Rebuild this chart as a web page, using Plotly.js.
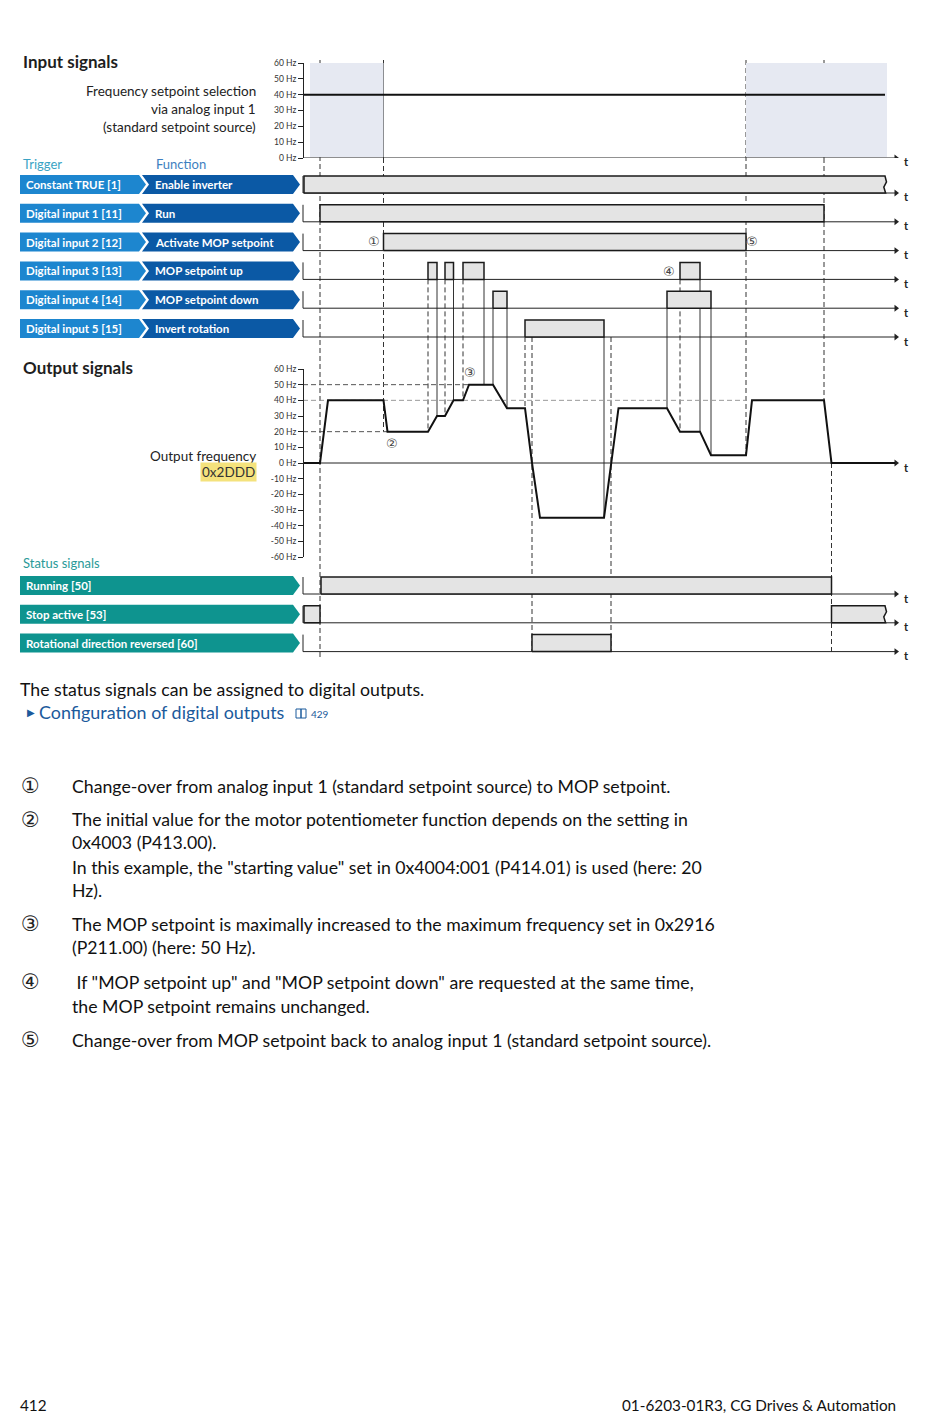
<!DOCTYPE html>
<html><head><meta charset="utf-8">
<script src="https://cdn.plot.ly/plotly-3.0.1.min.js"></script>
<style>html,body{margin:0;padding:0;background:#fff;}#chart{width:950px;height:1419px;}</style>
</head><body><div id="chart"></div>
<script>
// ================= DATA =================
const inputHzTicks = [0, 10, 20, 30, 40, 50, 60];
const inputHzTickText = ['0 Hz', '10 Hz', '20 Hz', '30 Hz', '40 Hz', '50 Hz', '60 Hz'];
const outputHzTicks = [-60, -50, -40, -30, -20, -10, 0, 10, 20, 30, 40, 50, 60];
const outputHzTickText = ['-60 Hz', '-50 Hz', '-40 Hz', '-30 Hz', '-20 Hz', '-10 Hz', '0 Hz', '10 Hz', '20 Hz', '30 Hz', '40 Hz', '50 Hz', '60 Hz'];

// analog input 1 setpoint (time units along the t axis)
const analogTime = [0, 582];
const analogHz = [40, 40];
const analogActiveWindows = [[7, 80.5], [443, 584]];

const triggerLabels = ['Constant TRUE [1]', 'Digital input 1 [11]', 'Digital input 2 [12]', 'Digital input 3 [13]', 'Digital input 4 [14]', 'Digital input 5 [15]'];
const functionLabels = ['Enable inverter', 'Run', 'Activate MOP setpoint', 'MOP setpoint up', 'MOP setpoint down', 'Invert rotation'];
const enableInverterOn = [[1, 582]];
const runOn = [[17, 521]];
const activateMopOn = [[80.5, 443]];
const mopUpOn = [[125, 134], [142, 150.5], [160, 181], [377, 397]];
const mopDownOn = [[190, 204], [364, 408]];
const invertOn = [[222, 301]];

const statusLabels = ['Running [50]', 'Stop active [53]', 'Rotational direction reversed [60]'];
const runningOn = [[18, 528.5]];
const stopActiveOn = [[1, 17], [528.5, 582]];
const rotReversedOn = [[229, 308]];

const outputTime = [0, 17, 25, 80.5, 84.5, 125, 134, 142, 150.5, 160, 166, 190, 204, 222, 229, 237, 301, 308, 315.5, 364, 377, 397, 408, 443, 449, 521, 528.5, 592];
const outputHz   = [0, 0, 40, 40, 20, 20, 30, 30, 40, 40, 50, 50, 35, 35, 0, -35, -35, 0, 35, 35, 20, 20, 5, 5, 40, 40, 0, 0];
const mopStartHz = 20;
const mopMaxHz = 50;

const notes = [
  ['\u2460', ['Change-over from analog input 1 (standard setpoint source) to MOP setpoint.']],
  ['\u2461', ['The initial value for the motor potentiometer function depends on the setting in', '0x4003 (P413.00).', 'In this example, the "starting value" set in 0x4004:001 (P414.01) is used (here: 20', 'Hz).']],
  ['\u2462', ['The MOP setpoint is maximally increased to the maximum frequency set in 0x2916', '(P211.00) (here: 50 Hz).']],
  ['\u2463', [' If "MOP setpoint up" and "MOP setpoint down" are requested at the same time,', 'the MOP setpoint remains unchanged.']],
  ['\u2464', ['Change-over from MOP setpoint back to analog input 1 (standard setpoint source).']]
];

// ================= LAYOUT HELPERS =================
const W = 950, H = 1419;
const X0 = 303;                      // pixel where t = 0
const px = x => x / W, py = y => 1 - y / H;
const rowStep = 28.8, barH = 17 / rowStep;
const inTop = 165, inBot = 345, inBase0 = 193;
const stTop = 565, stBot = 660, stBase0 = 594;
const outTopPx = 369, outBotPx = 557;
const tEnd = 592;
const FONT = 'Lato, "Open Sans", sans-serif';
const DIGF = '"DejaVu Sans", sans-serif';

const d2 = [py(outBotPx), py(outTopPx)];
const hzToPaper = hz => d2[0] + (hz + 60) / 120 * (d2[1] - d2[0]);
const inBasePx = i => inBase0 + i * rowStep;
const stBasePx = i => stBase0 + i * rowStep;
function outAt(t) {
  for (let k = 1; k < outputTime.length; k++) {
    if (t <= outputTime[k]) {
      const a = outputTime[k - 1], b = outputTime[k];
      return outputHz[k - 1] + (outputHz[k] - outputHz[k - 1]) * (t - a) / (b - a);
    }
  }
  return outputHz[outputHz.length - 1];
}

const traces = [];
const shapes = [];
const ann = [];

function txt(text, x, y, opt) {
  ann.push(Object.assign({text: text, xref: 'paper', yref: 'paper', x: px(x), y: py(y), showarrow: false,
    xanchor: 'left', yanchor: 'middle', font: {family: FONT, size: 13.5, color: '#222'}}, opt || {}));
}

function barTrace(a, b, base, axis) {
  const top = base + barH;
  let xs, ys;
  if (b >= 580) {
    xs = [a, a, b, b + 1.5, b - 1.2, b + 0.6, a];
    ys = [base, top, top, top - barH * 0.35, top - barH * 0.65, base, base];
  } else {
    xs = [a, a, b, b, a];
    ys = [base, top, top, base, base];
  }
  traces.push({x: xs, y: ys, xaxis: 'x', yaxis: axis, mode: 'lines', fill: 'toself', fillcolor: '#e4e4e4',
    line: {color: '#1a1a1a', width: 1.5}, hoverinfo: 'skip', showlegend: false});
}

function rowAxis(base, axis) {
  traces.push({x: [0, 0, tEnd], y: [base + barH, base, base], xaxis: 'x', yaxis: axis, mode: 'lines',
    line: {color: '#222', width: 1}, hoverinfo: 'skip', showlegend: false});
}

// ---- analog input graph ----
analogActiveWindows.forEach(w => shapes.push({type: 'rect', xref: 'x', yref: 'y', x0: w[0], x1: w[1], y0: 0.5, y1: 60,
  fillcolor: '#e6e9f2', line: {width: 0}, layer: 'below'}));
traces.push({x: [0, tEnd], y: [0, 0], xaxis: 'x', yaxis: 'y', mode: 'lines', line: {color: '#222', width: 1}, hoverinfo: 'skip', showlegend: false});
traces.push({x: analogTime, y: analogHz, xaxis: 'x', yaxis: 'y', mode: 'lines', line: {color: '#111', width: 2}, hoverinfo: 'skip', showlegend: false});
traces.push({x: [tEnd + 1], y: [0], xaxis: 'x', yaxis: 'y', mode: 'markers', marker: {symbol: 'triangle-right', size: 6, color: '#222'}, hoverinfo: 'skip', showlegend: false});

// ---- input rows ----
const inputRows = [enableInverterOn, runOn, activateMopOn, mopUpOn, mopDownOn, invertOn];
inputRows.forEach((iv, i) => {
  rowAxis(-i, 'y3');
  iv.forEach(p => barTrace(p[0], p[1], -i, 'y3'));
});
traces.push({x: inputRows.map(() => tEnd + 1), y: inputRows.map((r, i) => -i), xaxis: 'x', yaxis: 'y3', mode: 'markers',
  marker: {symbol: 'triangle-right', size: 6, color: '#222'}, hoverinfo: 'skip', showlegend: false});

// ---- status rows ----
const statusRows = [runningOn, stopActiveOn, rotReversedOn];
statusRows.forEach((iv, i) => {
  rowAxis(-i, 'y4');
  iv.forEach(p => barTrace(p[0], p[1], -i, 'y4'));
});
traces.push({x: statusRows.map(() => tEnd + 1), y: statusRows.map((r, i) => -i), xaxis: 'x', yaxis: 'y4', mode: 'markers',
  marker: {symbol: 'triangle-right', size: 6, color: '#222'}, hoverinfo: 'skip', showlegend: false});

// ---- output frequency ----
shapes.push({type: 'line', xref: 'x', yref: 'y2', x0: 0, x1: outputTime[outputHz.indexOf(mopMaxHz)], y0: mopMaxHz, y1: mopMaxHz, line: {color: '#555', width: 1, dash: '5px,3px'}, layer: 'below'});
shapes.push({type: 'line', xref: 'x', yref: 'y2', x0: 0, x1: activateMopOn[0][1], y0: analogHz[0], y1: analogHz[0], line: {color: '#999', width: 1, dash: '5px,3px'}, layer: 'below'});
shapes.push({type: 'line', xref: 'x', yref: 'y2', x0: 0, x1: outputTime[outputHz.indexOf(mopStartHz)], y0: mopStartHz, y1: mopStartHz, line: {color: '#555', width: 1, dash: '5px,3px'}, layer: 'below'});
traces.push({x: [0, tEnd], y: [0, 0], xaxis: 'x', yaxis: 'y2', mode: 'lines', line: {color: '#222', width: 1}, hoverinfo: 'skip', showlegend: false});
traces.push({x: [tEnd + 1], y: [0], xaxis: 'x', yaxis: 'y2', mode: 'markers', marker: {symbol: 'triangle-right', size: 6, color: '#222'}, hoverinfo: 'skip', showlegend: false});
traces.push({x: outputTime, y: outputHz, xaxis: 'x', yaxis: 'y2', mode: 'lines', line: {color: '#111', width: 2}, hoverinfo: 'skip', showlegend: false});

// ---- vertical guide lines ----
function vline(t, yTopPaper, yBotPaper, dash, color) {
  shapes.push({type: 'line', xref: 'x', yref: 'paper', x0: t, x1: t, y0: yTopPaper, y1: yBotPaper,
    line: {color: color || '#333', width: 1, dash: dash ? '5px,3px' : 'solid'}, layer: 'below'});
}
const tRun0 = runOn[0][0], tRun1 = runOn[0][1];
const tMop0 = activateMopOn[0][0], tMop1 = activateMopOn[0][1];
vline(tRun0, py(60), py(660), true);
vline(tMop0, py(60), py(158), false);
vline(tMop0, py(158), hzToPaper(outAt(tMop0 + 4)), true);
vline(tMop1, py(60), hzToPaper(outAt(tMop1)), true);
vline(tRun1, py(60), py(158), false);
vline(tRun1, py(158), hzToPaper(outAt(tRun1)), true);
vline(runningOn[0][1], hzToPaper(0), py(stBasePx(2)), true);
vline(invertOn[0][0], py(inBasePx(5)), hzToPaper(outAt(invertOn[0][0])), true);
vline(invertOn[0][1], py(inBasePx(5)), hzToPaper(outAt(invertOn[0][1])), false);
vline(rotReversedOn[0][0], py(inBasePx(5)), py(stBasePx(2)), true);
vline(rotReversedOn[0][1], py(inBasePx(5)), py(stBasePx(2)), true);
mopUpOn.forEach(p => {
  vline(p[0], py(inBasePx(3)), hzToPaper(outAt(p[0])), true);
  vline(p[1], py(inBasePx(3)), hzToPaper(outAt(p[1])), false);
});
mopDownOn.forEach(p => {
  vline(p[0], py(inBasePx(4)), hzToPaper(outAt(p[0])), false);
  vline(p[1], py(inBasePx(4)), hzToPaper(outAt(p[1])), false);
});

// ---- left tags ----
function path(pts) { return 'M' + pts.map(p => px(p[0]).toFixed(5) + ',' + py(p[1]).toFixed(5)).join(' L') + ' Z'; }
const TAGF = {family: FONT, size: 11.5, color: '#fff', weight: 'bold'};
const TF = {family: FONT, size: 11, color: '#222', weight: 'bold'};
triggerLabels.forEach((lab, i) => {
  const yc = inBasePx(i) - 8.5, t = yc - 9.5, b = yc + 9.5;
  shapes.push({type: 'path', xref: 'paper', yref: 'paper', path: path([[20, t], [139, t], [146, yc], [139, b], [20, b]]), fillcolor: '#1d86cf', line: {width: 0}});
  shapes.push({type: 'path', xref: 'paper', yref: 'paper', path: path([[142, t], [293, t], [300, yc], [293, b], [142, b], [149, yc]]), fillcolor: '#0b59a5', line: {width: 0}});
  txt(lab, 24, yc, {font: TAGF});
  txt(functionLabels[i], 153, yc, {font: TAGF});
  txt('t', 902, inBasePx(i) + 4, {font: TF});
});
statusLabels.forEach((lab, i) => {
  const yc = stBasePx(i) - 8.5, t = yc - 9.5, b = yc + 9.5;
  shapes.push({type: 'path', xref: 'paper', yref: 'paper', path: path([[20, t], [293, t], [300, yc], [293, b], [20, b]]), fillcolor: '#0e948f', line: {width: 0}});
  txt(lab, 24, yc, {font: TAGF});
  txt('t', 902, stBasePx(i) + 4, {font: TF});
});
txt('t', 902, 162, {font: TF});
txt('t', 902, 467, {font: TF});

// ---- diagram labels ----
const HEAD = {family: FONT, size: 17, color: '#1e1e1e', weight: 'bold'};
txt('Input signals', 21, 61, {font: HEAD});
txt('Output signals', 21, 367, {font: HEAD});
txt('Frequency setpoint selection', 258, 91, {xanchor: 'right'});
txt('via analog input 1', 258, 109, {xanchor: 'right'});
txt('(standard setpoint source)', 258, 127, {xanchor: 'right'});
txt('Trigger', 21, 164, {font: {family: FONT, size: 13, color: '#3aa3c4'}});
txt('Function', 154, 164, {font: {family: FONT, size: 13, color: '#3e7fc0'}});
txt('Status signals', 21, 563, {font: {family: FONT, size: 13, color: '#2a9a98'}});
txt('Output frequency', 258, 456, {xanchor: 'right'});
txt('0x2DDD', 257, 472, {xanchor: 'right', bgcolor: '#f4e27c', borderpad: 1, font: {family: FONT, size: 13.5, color: '#333'}});
const circ = {font: {family: DIGF, size: 13, color: '#444'}, xanchor: 'center'};
txt('\u2460', 374, 242, circ);
txt('\u2464', 752, 242, circ);
txt('\u2463', 669, 271, circ);
txt('\u2462', 470, 373, circ);
txt('\u2461', 392, 443, circ);

// ---- page text ----
const BODY = {family: FONT, size: 17.7, color: '#111'};
txt('The status signals can be assigned to digital outputs.', 18, 689, {font: BODY});
txt('\u25B6', 25, 712, {font: {family: DIGF, size: 10, color: '#1b5a9c'}});
txt('Configuration of digital outputs', 37, 712, {font: {family: FONT, size: 17.9, color: '#1b5a9c'}});
shapes.push({type: 'rect', xref: 'paper', yref: 'paper', x0: px(296), x1: px(301), y0: py(718), y1: py(709), line: {color: '#1b5a9c', width: 1}});
shapes.push({type: 'rect', xref: 'paper', yref: 'paper', x0: px(301), x1: px(306), y0: py(718), y1: py(709), line: {color: '#1b5a9c', width: 1}});
txt('429', 309, 714, {font: {family: FONT, size: 10, color: '#1b5a9c'}});

const noteY = [[786], [820, 843, 867, 890], [924, 947], [982, 1006], [1040]];
notes.forEach((n, k) => {
  txt(n[0], 30, noteY[k][0], {xanchor: 'center', font: {family: DIGF, size: 21, color: '#222'}});
  n[1].forEach((line, j) => txt(line, 70, noteY[k][j], {font: BODY}));
});
txt('412', 18, 1405, {font: {family: FONT, size: 15.3, color: '#111'}});
txt('01-6203-01R3, CG Drives & Automation', 898, 1405, {xanchor: 'right', font: {family: FONT, size: 15.3, color: '#111'}});

// ================= LAYOUT =================
const tickAxis = (dom, range, vals, text) => ({domain: dom, range: range, anchor: 'free', position: px(X0), showline: true,
  linecolor: '#222', linewidth: 1, ticks: 'outside', ticklen: 5, tickcolor: '#222', tickvals: vals, ticktext: text,
  tickfont: {family: FONT, size: 8.5, color: '#333'}, showgrid: false, zeroline: false, fixedrange: true});
const layout = {
  width: W, height: H, margin: {l: 0, r: 0, t: 0, b: 0}, paper_bgcolor: '#fff', plot_bgcolor: 'rgba(0,0,0,0)',
  showlegend: false,
  xaxis: {domain: [0, 1], range: [-X0, W - X0], visible: false, fixedrange: true},
  yaxis: tickAxis([py(158), py(63)], [0, 60], inputHzTicks, inputHzTickText),
  yaxis2: tickAxis(d2, [-60, 60], outputHzTicks, outputHzTickText),
  yaxis3: {domain: [py(inBot), py(inTop)], range: [-(inBot - inBase0) / rowStep, (inBase0 - inTop) / rowStep], visible: false, anchor: 'x'},
  yaxis4: {domain: [py(stBot), py(stTop)], range: [-(stBot - stBase0) / rowStep, (stBase0 - stTop) / rowStep], visible: false, anchor: 'x'},
  shapes: shapes, annotations: ann
};
Plotly.newPlot('chart', traces, layout, {staticPlot: true, displayModeBar: false});
</script></body></html>
